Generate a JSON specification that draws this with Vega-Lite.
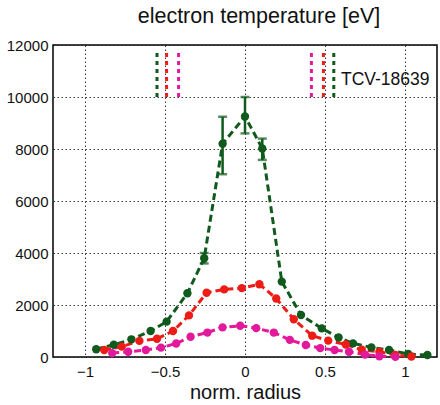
{
  "$schema": "https://vega.github.io/schema/vega-lite/v6.json",
  "autosize": "none",
  "width": 384,
  "height": 312,
  "padding": {"left": 53, "top": 45, "right": 3, "bottom": 48},
  "background": "white",
  "config": {
    "font": "Liberation Sans",
    "view": {"stroke": "black", "strokeWidth": 1.5},
    "axis": {
      "grid": true, "gridColor": "#222222", "gridDash": [1.5, 2.5], "gridOpacity": 0.9, "gridWidth": 1,
      "domain": false, "ticks": false, "labelFontSize": 15, "labelColor": "#111111",
      "titleFontSize": 20, "titleFontWeight": "normal", "titleColor": "#111111"
    }
  },
  "title": {"text": "electron temperature [eV]", "fontSize": 21.5, "fontWeight": "normal", "color": "#111111", "offset": 11, "anchor": "middle", "dx": 14},
  "datasets": {
    "profiles": [
      {"s": "g", "r": -0.93, "te": 300}, {"s": "g", "r": -0.82, "te": 470}, {"s": "g", "r": -0.71, "te": 680},
      {"s": "g", "r": -0.59, "te": 1000}, {"s": "g", "r": -0.49, "te": 1360}, {"s": "g", "r": -0.36, "te": 2450},
      {"s": "g", "r": -0.255, "te": 3800}, {"s": "g", "r": -0.14, "te": 8200}, {"s": "g", "r": 0.0, "te": 9250},
      {"s": "g", "r": 0.108, "te": 8020}, {"s": "g", "r": 0.23, "te": 2900}, {"s": "g", "r": 0.35, "te": 1615},
      {"s": "g", "r": 0.48, "te": 1100}, {"s": "g", "r": 0.585, "te": 750}, {"s": "g", "r": 0.675, "te": 525},
      {"s": "g", "r": 0.79, "te": 370}, {"s": "g", "r": 0.9, "te": 270}, {"s": "g", "r": 1.02, "te": 115},
      {"s": "g", "r": 1.14, "te": 75},
      {"s": "r", "r": -0.88, "te": 270}, {"s": "r", "r": -0.77, "te": 400}, {"s": "r", "r": -0.66, "te": 620},
      {"s": "r", "r": -0.55, "te": 700}, {"s": "r", "r": -0.45, "te": 1000}, {"s": "r", "r": -0.35, "te": 1600},
      {"s": "r", "r": -0.24, "te": 2470}, {"s": "r", "r": -0.13, "te": 2600}, {"s": "r", "r": -0.02, "te": 2650},
      {"s": "r", "r": 0.09, "te": 2800}, {"s": "r", "r": 0.195, "te": 2250}, {"s": "r", "r": 0.305, "te": 1450},
      {"s": "r", "r": 0.42, "te": 820}, {"s": "r", "r": 0.52, "te": 630}, {"s": "r", "r": 0.63, "te": 480},
      {"s": "r", "r": 0.73, "te": 280}, {"s": "r", "r": 0.84, "te": 200}, {"s": "r", "r": 0.94, "te": 80},
      {"s": "r", "r": 1.04, "te": 20},
      {"s": "m", "r": -0.83, "te": 150}, {"s": "m", "r": -0.73, "te": 200}, {"s": "m", "r": -0.62, "te": 270},
      {"s": "m", "r": -0.525, "te": 360}, {"s": "m", "r": -0.43, "te": 520}, {"s": "m", "r": -0.34, "te": 780},
      {"s": "m", "r": -0.235, "te": 940}, {"s": "m", "r": -0.14, "te": 1140}, {"s": "m", "r": -0.03, "te": 1200},
      {"s": "m", "r": 0.07, "te": 1110}, {"s": "m", "r": 0.18, "te": 940}, {"s": "m", "r": 0.28, "te": 660},
      {"s": "m", "r": 0.38, "te": 460}, {"s": "m", "r": 0.47, "te": 340}, {"s": "m", "r": 0.56, "te": 270},
      {"s": "m", "r": 0.65, "te": 200}, {"s": "m", "r": 0.75, "te": 90}, {"s": "m", "r": 0.84, "te": 30},
      {"s": "m", "r": 0.94, "te": 5}
    ],
    "errors": [
      {"s": "g", "r": -0.14, "lo": 7030, "hi": 9240},
      {"s": "g", "r": 0.0, "lo": 8600, "hi": 10000},
      {"s": "g", "r": 0.108, "lo": 7580, "hi": 8400},
      {"s": "g", "r": -0.255, "lo": 3600, "hi": 4000}
    ],
    "sep": [
      {"s": "g", "r": -0.55, "y1": 10000, "y2": 11800}, {"s": "g", "r": 0.555, "y1": 10000, "y2": 11800},
      {"s": "r", "r": -0.49, "y1": 10000, "y2": 11800}, {"s": "r", "r": 0.49, "y1": 10000, "y2": 11800},
      {"s": "m", "r": -0.415, "y1": 10000, "y2": 11800}, {"s": "m", "r": 0.415, "y1": 10000, "y2": 11800}
    ],
    "label": [{"r": 0.6, "te": 10650, "t": "TCV-18639"}]
  },
  "encoding": {
    "x": {"field": "r", "type": "quantitative", "scale": {"domain": [-1.2, 1.2], "nice": false, "zero": false},
      "axis": {"values": [-1, -0.5, 0, 0.5, 1], "title": "norm. radius", "labelPadding": 7, "titlePadding": 3, "format": "~g"}},
    "y": {"field": "te", "type": "quantitative", "scale": {"domain": [0, 12000], "nice": false},
      "axis": {"values": [0, 2000, 4000, 6000, 8000, 10000, 12000], "title": null, "labelPadding": 5, "format": "d"}}
  },
  "layer": [
    {
      "data": {"name": "sep"},
      "mark": {"type": "rule", "strokeWidth": 3, "strokeDash": [4, 4]},
      "encoding": {
        "y": {"field": "y1", "type": "quantitative"},
        "y2": {"field": "y2"},
        "color": {"field": "s", "type": "nominal", "scale": {"domain": ["g", "r", "m"], "range": ["#0f5a1c", "#ee1c16", "#e2199a"]}, "legend": null}
      }
    },
    {
      "data": {"name": "profiles"},
      "mark": {"type": "line", "strokeWidth": 3, "strokeDash": [7, 4]},
      "encoding": {
        "color": {"field": "s", "type": "nominal", "scale": {"domain": ["g", "r", "m"], "range": ["#0f5a1c", "#ee1c16", "#e2199a"]}, "legend": null}
      }
    },
    {
      "data": {"name": "errors"},
      "mark": {"type": "errorbar", "ticks": {"size": 9, "thickness": 2.5}, "thickness": 2.5, "color": "#0f5a1c"},
      "encoding": {
        "y": {"field": "lo", "type": "quantitative"},
        "y2": {"field": "hi"}
      }
    },
    {
      "data": {"name": "profiles"},
      "mark": {"type": "circle", "size": 70, "opacity": 1},
      "encoding": {
        "color": {"field": "s", "type": "nominal", "scale": {"domain": ["g", "r", "m"], "range": ["#0f5a1c", "#ee1c16", "#e2199a"]}, "legend": null}
      }
    },
    {
      "data": {"name": "label"},
      "mark": {"type": "text", "align": "left", "baseline": "middle", "fontSize": 17.5, "color": "#111111"},
      "encoding": {"text": {"field": "t"}}
    }
  ]
}
